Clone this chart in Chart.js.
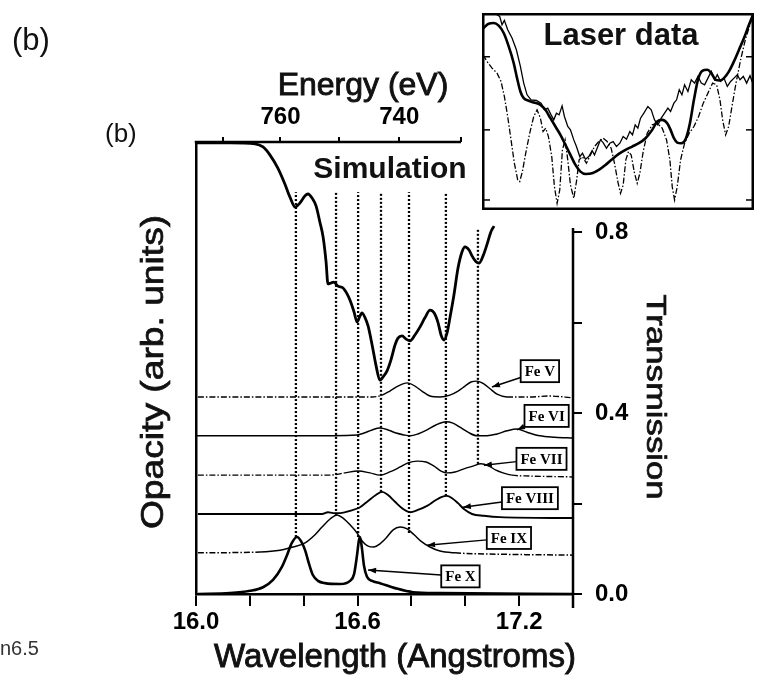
<!DOCTYPE html>
<html>
<head>
<meta charset="utf-8">
<script src="https://cdn.jsdelivr.net/npm/chart.js@4.4.1/dist/chart.umd.min.js"></script>
<style>
  html, body { margin: 0; padding: 0; background: #fff; }
  #wrap { position: relative; width: 762px; height: 686px; }
  #main { position: absolute; left: 0; top: 0; }
  #inset { position: absolute; left: 482px; top: 13px; }
</style>
</head>
<body>
<div id="wrap">
  <canvas id="main" width="762" height="686"></canvas>
  <canvas id="inset" width="272" height="197"></canvas>
</div>
<script>
const HC = 12398.4; // eV * Angstrom, for the energy axis

// axis ticks
const xTicks = [16.0, 16.2, 16.4, 16.6, 16.8, 17.0, 17.2, 17.4];
const xTickLabels = [16.0, 16.6, 17.2];
const energyTicks = [770, 760, 750, 740, 730];
const energyTickLabels = [760, 740];
const tTicks = [0.0, 0.2, 0.4, 0.6, 0.8];
const tTickLabels = [0.0, 0.4, 0.8];

// simulated opacity, [wavelength (A), value]
const simulation = [[16.00,0.998],[16.126,0.998],[16.219,0.996],[16.249,0.989],[16.275,0.971],[16.304,0.942],
  [16.330,0.907],[16.349,0.878],[16.368,0.856],[16.386,0.865],[16.405,0.881],[16.416,0.885],[16.431,0.876],
  [16.446,0.858],[16.460,0.823],[16.472,0.790],[16.483,0.735],[16.490,0.686],[16.501,0.688],[16.512,0.690],
  [16.527,0.681],[16.546,0.677],[16.561,0.664],[16.572,0.650],[16.587,0.624],[16.598,0.602],[16.609,0.615],
  [16.616,0.622],[16.628,0.611],[16.639,0.593],[16.654,0.551],[16.668,0.507],[16.683,0.473],[16.694,0.480],
  [16.709,0.493],[16.724,0.518],[16.739,0.551],[16.750,0.566],[16.765,0.571],[16.780,0.564],[16.795,0.560],
  [16.813,0.573],[16.832,0.591],[16.850,0.611],[16.869,0.628],[16.884,0.622],[16.899,0.600],[16.910,0.573],
  [16.921,0.562],[16.932,0.577],[16.943,0.611],[16.958,0.662],[16.973,0.721],[16.988,0.757],[16.999,0.768],
  [17.014,0.761],[17.025,0.748],[17.040,0.735],[17.051,0.732],[17.066,0.748],[17.081,0.774],[17.095,0.801],
  [17.107,0.814]];

// ion contributions
const feV = [[16.007,0.436],[16.386,0.436],[16.654,0.436],[16.691,0.440],[16.720,0.449],[16.750,0.460],
  [16.784,0.467],[16.813,0.460],[16.839,0.449],[16.869,0.438],[16.906,0.436],[16.943,0.440],[16.973,0.449],
  [16.999,0.460],[17.021,0.469],[17.043,0.471],[17.069,0.465],[17.092,0.454],[17.118,0.442],[17.155,0.436],
  [17.240,0.436],[17.315,0.438],[17.400,0.434]];
const feVI = [[16.004,0.350],[16.386,0.350],[16.598,0.352],[16.624,0.356],[16.654,0.363],[16.683,0.367],
  [16.713,0.363],[16.743,0.356],[16.772,0.352],[16.795,0.350],[16.824,0.354],[16.858,0.363],[16.891,0.374],
  [16.928,0.381],[16.954,0.378],[16.980,0.369],[17.010,0.358],[17.043,0.350],[17.081,0.350],[17.118,0.354],
  [17.155,0.361],[17.192,0.365],[17.229,0.358],[17.277,0.350],[17.333,0.347],[17.400,0.345]];
const feVII = [[16.007,0.263],[16.498,0.263],[16.553,0.268],[16.602,0.272],[16.646,0.268],[16.683,0.263],
  [16.720,0.270],[16.758,0.281],[16.787,0.290],[16.821,0.294],[16.854,0.292],[16.884,0.283],[16.910,0.272],
  [16.932,0.268],[16.962,0.270],[16.995,0.277],[17.029,0.283],[17.058,0.288],[17.088,0.283],[17.114,0.274],
  [17.140,0.268],[17.173,0.263],[17.240,0.261],[17.400,0.259]];
const feVIII = [[16.007,0.177],[16.468,0.177],[16.490,0.181],[16.509,0.179],[16.535,0.179],[16.572,0.184],
  [16.609,0.192],[16.639,0.206],[16.668,0.219],[16.691,0.226],[16.713,0.219],[16.739,0.204],[16.769,0.188],
  [16.795,0.181],[16.824,0.186],[16.858,0.195],[16.891,0.208],[16.913,0.215],[16.932,0.217],[16.951,0.212],
  [16.973,0.201],[16.995,0.188],[17.025,0.177],[17.069,0.173],[17.129,0.170],[17.400,0.168]];
const feIX = [[16.007,0.091],[16.238,0.093],[16.312,0.097],[16.360,0.104],[16.405,0.113],[16.442,0.131],
  [16.468,0.148],[16.498,0.166],[16.524,0.175],[16.546,0.168],[16.572,0.153],[16.598,0.135],[16.620,0.115],
  [16.639,0.106],[16.661,0.104],[16.683,0.111],[16.706,0.124],[16.732,0.142],[16.758,0.148],[16.784,0.144],
  [16.810,0.131],[16.835,0.117],[16.869,0.104],[16.906,0.095],[16.962,0.091],[17.129,0.088],[17.400,0.086]];
const feX = [[16.007,0.000],[16.126,0.002],[16.201,0.007],[16.249,0.015],[16.286,0.031],[16.319,0.060],
  [16.338,0.086],[16.356,0.113],[16.375,0.126],[16.390,0.117],[16.405,0.097],[16.420,0.066],[16.434,0.042],
  [16.453,0.029],[16.479,0.024],[16.535,0.022],[16.572,0.029],[16.587,0.044],[16.598,0.086],[16.605,0.119],
  [16.609,0.126],[16.616,0.102],[16.624,0.062],[16.635,0.038],[16.654,0.029],[16.683,0.024],[16.739,0.013],
  [16.806,0.004],[16.906,0.002],[17.400,0.000]];

// dotted line markers
const dotLam = [16.371, 16.520, 16.602, 16.687, 16.791, 16.928, 17.047];
const dotTop = [0.889, 0.889, 0.889, 0.889, 0.889, 0.889, 0.808];
const dotBottom = [0.126, 0.175, 0.126, 0.226, 0.135, 0.217, 0.288];

// ion labels
const feNames = ['Fe V', 'Fe VI', 'Fe VII', 'Fe VIII', 'Fe IX', 'Fe X'];

// inset: laser data, arbitrary units [x, y]
const laserThick = [[0,540],[5,545],[20,558],[35,560],[50,552],[65,530],[80,490],[95,440],[105,395],[115,355],
  [125,335],[140,327],[155,322],[175,315],[190,300],[205,275],[220,250],[235,225],[250,195],[265,165],[280,135],
  [295,115],[310,108],[330,110],[350,120],[370,135],[390,152],[410,168],[430,180],[450,190],[470,200],[490,215],
  [510,240],[525,265],[540,270],[555,260],[565,240],[575,215],[585,202],[597,200],[610,212],[623,260],[635,330],
  [647,390],[660,417],[675,420],[687,410],[700,390],[713,388],[725,395],[740,415],[755,445],[770,480],[785,515],
  [800,555],[815,592]];
const laserThin = [[10,588],[25,588],[40,588],[53,580],[60,555],[67,568],[77,540],[90,515],[103,480],[115,430],
  [125,380],[135,345],[147,330],[163,328],[177,320],[187,300],[197,305],[207,285],[215,270],[223,290],[231,285],
  [240,312],[247,280],[257,250],[265,240],[275,210],[283,190],[293,160],[301,170],[310,152],[320,160],[330,178],
  [337,165],[347,190],[355,210],[363,202],[373,185],[383,200],[393,205],[403,190],[413,200],[423,220],[433,212],
  [443,235],[451,225],[459,255],[467,245],[475,275],[485,290],[497,310],[507,300],[517,270],[527,255],[537,275],
  [547,290],[557,305],[565,295],[575,320],[583,330],[591,360],[599,345],[607,375],[617,355],[627,390],[637,380],
  [647,400],[657,380],[667,375],[677,395],[687,415],[697,390],[705,405],[715,385],[725,395],[735,370],[745,385],
  [755,395],[765,405],[773,390],[783,400],[793,380],[803,402],[813,375]];
const laserDash = [[3,465],[15,445],[30,425],[45,410],[57,385],[67,340],[77,280],[87,210],[97,140],[107,90],
  [113,85],[121,115],[131,170],[143,230],[155,280],[165,300],[175,275],[183,235],[191,245],[199,220],[209,160],
  [217,70],[225,20],[233,60],[241,180],[249,210],[257,150],[265,75],[275,35],[283,85],[291,150],[301,160],
  [313,140],[325,165],[337,190],[350,205],[363,215],[375,205],[387,185],[397,140],[407,85],[415,50],[423,75],
  [431,150],[439,175],[447,165],[457,110],[465,80],[473,110],[483,175],[495,230],[510,255],[525,260],[540,245],
  [553,210],[563,150],[570,70],[577,30],[585,70],[595,150],[607,200],[621,230],[635,250],[649,280],[663,320],
  [677,350],[691,380],[703,375],[713,330],[721,270],[730,225],[739,250],[749,310],[761,380],[775,450],[789,510],
  [803,555],[813,590]];
const laserTicks = [459, 240, 30];

// label placement (data units), kept apart from the values
const feBoxLam = [17.277, 17.302, 17.283, 17.240, 17.162, 16.982];
const feBoxT = [0.493, 0.394, 0.299, 0.212, 0.124, 0.039];
const feTipLam = [17.099, 17.192, 17.069, 16.991, 16.858, 16.639];
const feTipT = [0.458, 0.363, 0.285, 0.192, 0.108, 0.053];

Chart.defaults.font.family = '"Liberation Sans", Arial, sans-serif';
Chart.defaults.color = '#000';

const SANS = '"Liberation Sans", Arial, sans-serif';
const SERIF = '"Liberation Serif", "Times New Roman", serif';

function pts(a) { return a.map(p => ({ x: p[0], y: p[1] })); }
function near(list, v) { return list.some(t => Math.abs(t - v) < 1e-6); }

// the flat tails of some traces are drawn dash-dot, the humps solid
function tailDash(data) {
  const tol = 0.006;
  let left = 0, right = data.length - 1;
  while (left + 1 < data.length && Math.abs(data[left + 1][1] - data[0][1]) < tol) left++;
  while (right - 1 >= 0 && Math.abs(data[right - 1][1] - data[data.length - 1][1]) < tol) right--;
  return c => (c.p1DataIndex <= left || c.p0DataIndex >= right) ? [6, 2, 1.5, 2] : undefined;
}

function trace(data, width, dashed) {
  const ds = { data: pts(data), borderColor: '#000', borderWidth: width, pointRadius: 0,
    cubicInterpolationMode: 'monotone', fill: false };
  if (dashed) ds.segment = { borderDash: tailDash(data) };
  return ds;
}

const datasets = [
  trace(simulation, 2.8, false),
  trace(feV, 1.4, true),
  trace(feVI, 1.5, false),
  trace(feVII, 1.4, true),
  trace(feVIII, 1.9, false),
  trace(feIX, 1.5, true),
  trace(feX, 2.6, false)
];
dotLam.forEach((l, i) => {
  datasets.push({ data: [{ x: l, y: dotBottom[i] }, { x: l, y: dotTop[i] }], borderColor: '#000',
    borderWidth: 2.3, borderDash: [2, 2], pointRadius: 0, fill: false });
});

function arrowTo(ctx, x0, y0, x1, y1) {
  ctx.beginPath(); ctx.moveTo(x0, y0); ctx.lineTo(x1, y1); ctx.stroke();
  const ang = Math.atan2(y1 - y0, x1 - x0), len = 8, hw = 2.8;
  ctx.beginPath();
  ctx.moveTo(x1, y1);
  ctx.lineTo(x1 - len * Math.cos(ang) + hw * Math.sin(ang), y1 - len * Math.sin(ang) - hw * Math.cos(ang));
  ctx.lineTo(x1 - len * Math.cos(ang) - hw * Math.sin(ang), y1 - len * Math.sin(ang) + hw * Math.cos(ang));
  ctx.closePath(); ctx.fill();
}

// regular glyphs with a thin outline, to match the heavier scanned lettering
function heavyText(ctx, text, x, y, w) {
  ctx.lineWidth = w;
  ctx.strokeStyle = ctx.fillStyle;
  ctx.strokeText(text, x, y);
  ctx.fillText(text, x, y);
}

const framePlugin = {
  id: 'frame',
  afterDraw(chart) {
    const { ctx, chartArea: a } = chart;
    const xs = chart.scales.x, ys = chart.scales.y;
    ctx.save();
    ctx.strokeStyle = '#000'; ctx.fillStyle = '#000'; ctx.lineWidth = 2.5;
    // top energy axis line, ends at its last tick
    ctx.beginPath();
    ctx.moveTo(a.left - 1.25, a.top);
    ctx.lineTo(xs.getPixelForValue(HC / energyTicks[energyTicks.length - 1]), a.top);
    ctx.stroke();
    // right transmission axis
    ctx.beginPath();
    ctx.moveTo(a.right, ys.getPixelForValue(0.81));
    ctx.lineTo(a.right, a.bottom + 14);
    ctx.stroke();

    // ion label boxes with arrows
    ctx.font = 'bold 15px ' + SERIF;
    ctx.textAlign = 'center'; ctx.textBaseline = 'middle';
    feNames.forEach((name, i) => {
      const cx = xs.getPixelForValue(feBoxLam[i]), cy = ys.getPixelForValue(feBoxT[i]);
      const tx = xs.getPixelForValue(feTipLam[i]), ty = ys.getPixelForValue(feTipT[i]);
      const w = ctx.measureText(name).width + 8, h = 22;
      const sx = cx - w / 2, sy = cy + (ty - cy) * (w / 2) / (cx - tx);
      ctx.strokeStyle = '#000'; ctx.fillStyle = '#000';
      ctx.lineWidth = 1.4;
      arrowTo(ctx, sx, sy, tx, ty);
      ctx.fillStyle = '#fff';
      ctx.fillRect(cx - w / 2, cy - h / 2, w, h);
      ctx.lineWidth = 1.8;
      ctx.strokeRect(cx - w / 2, cy - h / 2, w, h);
      ctx.fillStyle = '#000';
      ctx.fillText(name, cx, cy + 1);
    });

    // titles and panel marks
    ctx.fillStyle = '#111';
    ctx.textBaseline = 'alphabetic';
    ctx.textAlign = 'left';
    ctx.font = '31px ' + SANS; ctx.fillText('(b)', 12, 50);
    ctx.font = '26px ' + SANS; ctx.fillText('(b)', 105, 142);
    ctx.fillStyle = '#333';
    ctx.font = '20px ' + SANS; ctx.fillText('n6.5', 0, 655);
    ctx.fillStyle = '#111';
    ctx.textAlign = 'center';
    ctx.font = 'bold 30px ' + SANS; ctx.fillText('Simulation', 390, 178);
    ctx.font = '32px ' + SANS; heavyText(ctx, 'Energy (eV)', 363, 95, 0.9);
    ctx.font = '33px ' + SANS; heavyText(ctx, 'Wavelength (Angstroms)', 395, 667, 0.9);

    ctx.save();
    ctx.translate(163, 372); ctx.rotate(-Math.PI / 2); ctx.scale(1.2, 1);
    ctx.font = '31px ' + SANS; heavyText(ctx, 'Opacity (arb. units)', 0, 0, 0.7);
    ctx.restore();

    ctx.save();
    ctx.translate(647, 397); ctx.rotate(Math.PI / 2); ctx.scale(1.24, 1);
    ctx.font = '28px ' + SANS; heavyText(ctx, 'Transmission', 0, 0, 0.7);
    ctx.restore();

    ctx.restore();
  }
};

const tickFont = { size: 24, weight: 'bold' };

new Chart(document.getElementById('main'), {
  type: 'line',
  data: { datasets: datasets },
  options: {
    responsive: false,
    animation: false,
    layout: { padding: 0 },
    plugins: { legend: { display: false }, tooltip: { enabled: false } },
    scales: {
      x: {
        type: 'linear', position: 'bottom', min: 16.0, max: 17.4,
        afterBuildTicks: s => { s.ticks = xTicks.map(v => ({ value: v })); },
        afterFit: s => { s.height = 92; },
        ticks: { autoSkip: false, maxRotation: 0, padding: 2, color: '#000', font: tickFont,
          callback: v => near(xTickLabels, v) ? Number(v).toFixed(1) : '' },
        grid: { drawOnChartArea: false, drawTicks: true, tickLength: 12, color: '#000', lineWidth: 2 },
        border: { display: true, color: '#000', width: 2.5 }
      },
      x2: {
        type: 'linear', position: 'top', min: 16.0, max: 17.4,
        afterBuildTicks: s => { s.ticks = energyTicks.map(e => ({ value: HC / e })); },
        afterFit: s => { s.height = 142; },
        ticks: { autoSkip: false, maxRotation: 0, padding: 5, color: '#000', font: tickFont,
          callback: v => { const e = Math.round(HC / v); return energyTickLabels.includes(e) ? String(e) : ''; } },
        grid: { drawOnChartArea: false, drawTicks: true, tickLength: 5, color: '#000', lineWidth: 2 },
        border: { display: false }
      },
      y: {
        position: 'left', min: 0, max: 1,
        afterFit: s => { s.width = 196; },
        ticks: { display: false },
        grid: { display: false },
        border: { display: true, color: '#000', width: 2.5 }
      },
      y2: {
        position: 'right', min: 0, max: 1,
        afterBuildTicks: s => { s.ticks = tTicks.map(v => ({ value: v })); },
        afterFit: s => { s.width = 189; },
        ticks: { autoSkip: false, padding: 13, color: '#000', font: tickFont,
          callback: v => near(tTickLabels, v) ? Number(v).toFixed(1) : '' },
        grid: { drawOnChartArea: false, drawTicks: true, tickLength: 9, color: '#000', lineWidth: 2 },
        border: { display: false }
      }
    }
  },
  plugins: [framePlugin]
});

// inset with the laser data
const insetPlugin = {
  id: 'insetFrame',
  beforeDraw(chart) {
    const { ctx, width, height } = chart;
    ctx.save(); ctx.fillStyle = '#fff'; ctx.fillRect(0, 0, width, height); ctx.restore();
  },
  afterDraw(chart) {
    const { ctx, width, height } = chart;
    const ys = chart.scales.y;
    ctx.save();
    ctx.strokeStyle = '#000'; ctx.lineWidth = 2.5;
    ctx.strokeRect(1.25, 1.25, width - 2.5, height - 2.5);
    ctx.lineWidth = 1.5;
    laserTicks.forEach(v => {
      const py = ys.getPixelForValue(v);
      ctx.beginPath(); ctx.moveTo(2, py); ctx.lineTo(8, py); ctx.stroke();
      ctx.beginPath(); ctx.moveTo(width - 2, py); ctx.lineTo(width - 8, py); ctx.stroke();
    });
    ctx.fillStyle = '#111';
    ctx.font = 'bold 31px ' + SANS;
    ctx.textAlign = 'center'; ctx.textBaseline = 'alphabetic';
    ctx.fillText('Laser data', 139, 32);
    ctx.restore();
  }
};

new Chart(document.getElementById('inset'), {
  type: 'line',
  data: {
    datasets: [
      { data: pts(laserThin), borderColor: '#000', borderWidth: 1.3, pointRadius: 0, tension: 0, fill: false },
      { data: pts(laserDash), borderColor: '#000', borderWidth: 1.3, borderDash: [6, 2, 1.5, 2], pointRadius: 0, tension: 0, fill: false },
      { data: pts(laserThick), borderColor: '#000', borderWidth: 2.6, pointRadius: 0, cubicInterpolationMode: 'monotone', fill: false }
    ]
  },
  options: {
    responsive: false,
    animation: false,
    layout: { padding: 0 },
    plugins: { legend: { display: false }, tooltip: { enabled: false } },
    scales: {
      x: { type: 'linear', display: false, min: 0, max: 815 },
      y: { display: false, min: 0, max: 590 }
    }
  },
  plugins: [insetPlugin]
});
</script>
</body>
</html>
